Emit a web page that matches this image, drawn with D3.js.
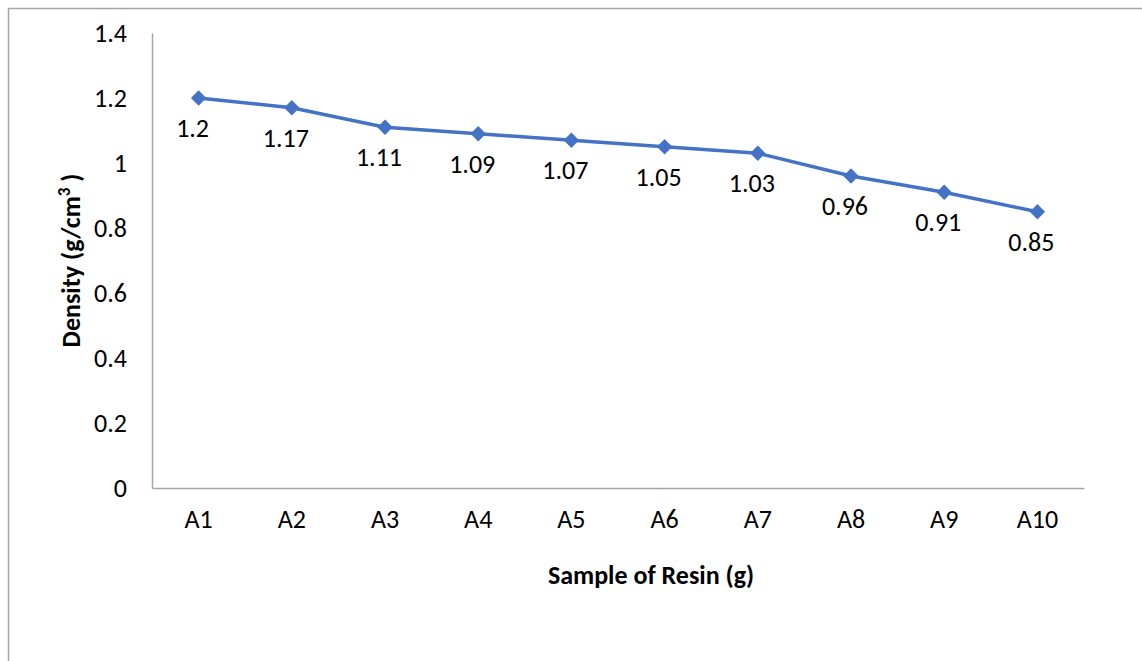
<!DOCTYPE html>
<html>
<head>
<meta charset="utf-8">
<script src="https://cdn.jsdelivr.net/npm/d3@7"></script>
<style>
  html, body { margin: 0; padding: 0; background: #fff; }
  svg text { font-family: Carlito, Lato, "Open Sans", sans-serif; fill: #000; }
</style>
</head>
<body>
<div id="chart"></div>
<script>
const samples = ['A1', 'A2', 'A3', 'A4', 'A5', 'A6', 'A7', 'A8', 'A9', 'A10'];
const density = [1.2, 1.17, 1.11, 1.09, 1.07, 1.05, 1.03, 0.96, 0.91, 0.85];
const yTicks = [0, 0.2, 0.4, 0.6, 0.8, 1, 1.2, 1.4];

const width = 1142;
const height = 661;
const margin = { top: 33, right: 58, bottom: 173, left: 152 };
const fs = 26;

const svg = d3.select('#chart')
  .append('svg')
  .attr('width', width)
  .attr('height', height);

// outer chart border (only top and left visible in the crop)
svg.append('rect')
  .attr('x', 8.5)
  .attr('y', 8.5)
  .attr('width', width + 20)
  .attr('height', height + 20)
  .attr('fill', 'none')
  .attr('stroke', '#a6a6a6')
  .attr('stroke-width', 1.5);

const g = svg.append('g').attr('transform', `translate(${margin.left},${margin.top})`);
const w = width - margin.left - margin.right;
const h = height - margin.top - margin.bottom;

const x = d3.scaleBand().domain(samples).range([0, w]);
const y = d3.scaleLinear().domain([0, 1.4]).range([h, 0]);

const yAxis = g.append('g')
  .call(d3.axisLeft(y).tickValues(yTicks).tickSize(0).tickPadding(25).tickFormat(d3.format('~g')));
yAxis.select('.domain').attr('stroke', '#a6a6a6').attr('stroke-width', 1.5);
yAxis.selectAll('text').attr('font-size', fs);

const xAxis = g.append('g')
  .attr('transform', `translate(0,${h})`)
  .call(d3.axisBottom(x).tickSize(0).tickPadding(22));
xAxis.select('.domain').attr('stroke', '#a6a6a6').attr('stroke-width', 1.5);
xAxis.selectAll('text').attr('font-size', fs);

const pts = samples.map((s, i) => ({ s, v: density[i] }));
const cx = d => x(d.s) + x.bandwidth() / 2;

g.append('path')
  .datum(pts)
  .attr('fill', 'none')
  .attr('stroke', '#4472c4')
  .attr('stroke-width', 3.5)
  .attr('d', d3.line().x(cx).y(d => y(d.v)));

g.selectAll('.marker')
  .data(pts)
  .enter()
  .append('path')
  .attr('class', 'marker')
  .attr('fill', '#4472c4')
  .attr('transform', d => `translate(${cx(d)},${y(d.v)})`)
  .attr('d', d3.symbol().type(d3.symbolDiamond2).size(150));

g.selectAll('.label')
  .data(pts)
  .enter()
  .append('text')
  .attr('class', 'label')
  .attr('x', d => cx(d) - 6)
  .attr('y', d => y(d.v) + 39)
  .attr('text-anchor', 'middle')
  .attr('font-size', fs)
  .text(d => d.v);

g.append('text')
  .attr('x', w / 2 + 33)
  .attr('y', h + 96)
  .attr('text-anchor', 'middle')
  .attr('font-size', fs)
  .attr('font-weight', 'bold')
  .text('Sample of Resin (g)');

const yt = g.append('text')
  .attr('transform', `translate(-72,${h / 2}) rotate(-90)`)
  .attr('text-anchor', 'middle')
  .attr('font-size', fs)
  .attr('font-weight', 'bold');
yt.append('tspan').text('Density (g/cm');
yt.append('tspan').attr('font-size', 17).attr('dy', -10).text('3');
yt.append('tspan').attr('dy', 10).text(' )');
</script>
</body>
</html>
